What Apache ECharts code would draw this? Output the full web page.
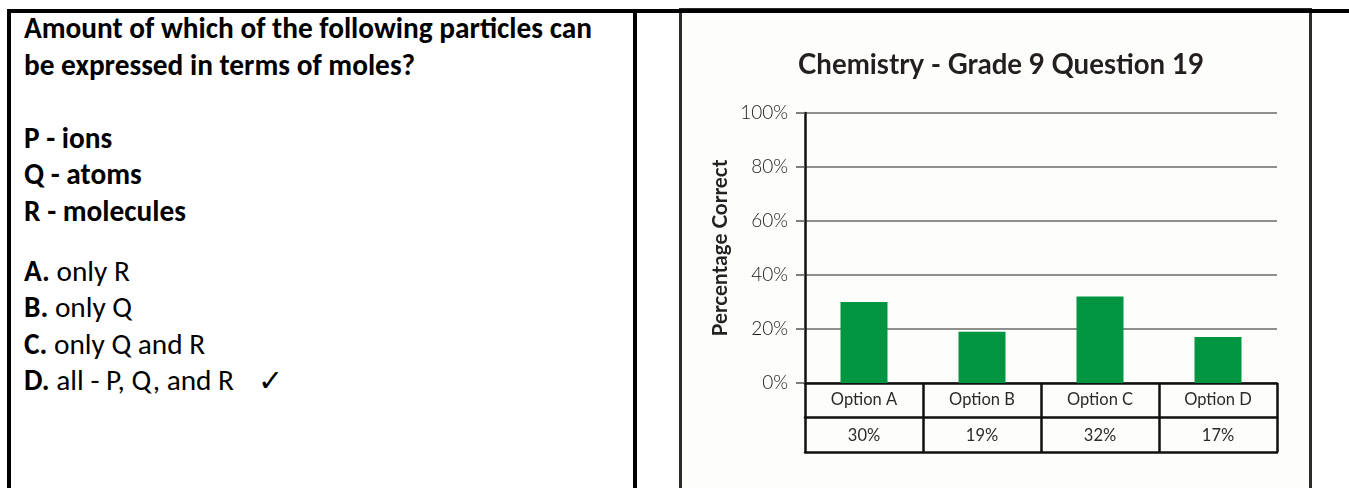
<!DOCTYPE html>
<html><head><meta charset="utf-8">
<script src="https://cdn.jsdelivr.net/npm/echarts@6/dist/echarts.min.js"></script>
<style>
html,body{margin:0;padding:0;width:1349px;height:488px;overflow:hidden;background:#fff;}
.blk{position:absolute;background:#000;}
#img{position:absolute;left:679px;top:8px;width:627px;height:490px;border:3px solid #2b2b2b;background:#fdfdfb;}
#txt{position:absolute;left:0;top:0;}
#txt text{font-family:Carlito,Lato,sans-serif;fill:#000;}
#chart{position:absolute;left:0;top:0;width:1349px;height:488px;}
</style></head><body>
<div id="img"></div>
<div class="blk" style="left:7px;top:9px;width:1342px;height:4px"></div>
<div class="blk" style="left:7px;top:9px;width:4px;height:479px"></div>
<div class="blk" style="left:633px;top:9px;width:4px;height:479px"></div>
<svg id="txt" width="1349" height="488"></svg>
<div id="chart"></div>
<script>
// ---- data ----
const questionLines = ["Amount of which of the following particles can", "be expressed in terms of moles?"];
const statements = ["P - ions", "Q - atoms", "R - molecules"];
const optionLetters = ["A.", "B.", "C.", "D."];
const optionTexts = ["only R", "only Q", "only Q and R", "all - P, Q, and R"];
const correctOption = 3;
const chartTitle = "Chemistry - Grade 9 Question 19";
const yAxisName = "Percentage Correct";
const categories = ["Option A", "Option B", "Option C", "Option D"];
const percentCorrect = [30, 19, 32, 17];
const yMin = 0, yMax = 100, yStep = 20;

// ---- left text panel ----
const NS = 'http://www.w3.org/2000/svg';
const svg = document.getElementById('txt');
function addText(x, y, parts, size) {
  const t = document.createElementNS(NS, 'text');
  t.setAttribute('x', x); t.setAttribute('y', y); t.setAttribute('font-size', size);
  parts.forEach(p => {
    const s = document.createElementNS(NS, 'tspan');
    s.textContent = p.t;
    if (p.b) s.setAttribute('font-weight', 'bold');
    t.appendChild(s);
  });
  svg.appendChild(t);
  return t;
}
const texts = [];
const X0 = 24;
const baseQ = [38, 74.5];
const baseS = [147.5, 184, 220.5];
const baseO = [281, 317, 353.5, 390];
questionLines.forEach((l, i) => texts.push(addText(X0, baseQ[i], [{t: l, b: true}], 22)));
statements.forEach((l, i) => texts.push(addText(X0, baseS[i], [{t: l, b: true}], 22)));
optionLetters.forEach((l, i) => texts.push(addText(X0, baseO[i], [{t: l, b: true}, {t: ' ' + optionTexts[i]}], 22)));
const w1 = texts[0].getComputedTextLength();
const fs = 22 * 568 / w1;
texts.forEach(t => t.setAttribute('font-size', fs.toFixed(2)));
const dText = texts[questionLines.length + statements.length + correctOption];
const dEnd = X0 + dText.getComputedTextLength();
const chk = addText(dEnd + 24, baseO[correctOption] + 1, [{t: '\u2713'}], 30);
chk.setAttribute('style', 'font-family:"DejaVu Sans",sans-serif');

// ---- chart ----
function fitSize(text, weight, family, target, base) {
  const c = document.createElement('canvas').getContext('2d');
  c.font = weight + ' ' + base + 'px ' + family;
  return base * target / c.measureText(text).width;
}
const titleSize = fitSize(chartTitle, 'bold', 'Lato', 406, 24);
const nameSize = fitSize(yAxisName, 'bold', 'Lato', 177, 17);

const chart = echarts.init(document.getElementById('chart'), null, {renderer: 'canvas'});
const tableLine = {color: '#111', width: 2.5};
chart.setOption({
  backgroundColor: 'transparent',
  animation: false,
  title: {
    text: chartTitle, left: 996, top: 46, textAlign: 'center',
    textStyle: {fontFamily: 'Lato', fontWeight: 'bold', fontSize: titleSize, color: '#231f20'}
  },
  grid: {left: 805, right: 72, top: 113, bottom: 105, containLabel: false},
  xAxis: [
    {
      type: 'category', data: categories, position: 'bottom',
      axisLine: {show: true, lineStyle: tableLine},
      axisTick: {show: true, interval: 0, length: 69, lineStyle: tableLine},
      axisLabel: {interval: 0, margin: 8, fontFamily: 'Lato', fontSize: 16.5, color: '#2a2a2a'}
    },
    {
      type: 'category', data: categories, position: 'bottom', offset: 34,
      axisLine: {show: true, lineStyle: tableLine},
      axisTick: {show: false},
      axisLabel: {interval: 0, margin: 10, fontFamily: 'Lato', fontSize: 16.5, color: '#2a2a2a',
        formatter: (v, i) => percentCorrect[i] + '%'}
    },
    {
      type: 'category', data: categories, position: 'bottom', offset: 69,
      axisLine: {show: true, lineStyle: tableLine},
      axisTick: {show: false}, axisLabel: {show: false}
    }
  ],
  yAxis: {
    type: 'value', min: yMin, max: yMax, interval: yStep,
    name: yAxisName, nameLocation: 'middle', nameRotate: 90, nameGap: 74,
    nameTextStyle: {fontFamily: 'Lato', fontWeight: 'bold', fontSize: nameSize, color: '#222'},
    axisLine: {show: true, lineStyle: {color: '#111', width: 2.5}},
    axisTick: {show: true, length: 9, lineStyle: {color: '#555', width: 1.5}},
    axisLabel: {margin: 17, fontFamily: 'Lato', fontWeight: 300, fontSize: 19, color: '#1a1a1a',
      formatter: '{value}%'},
    splitLine: {show: true, lineStyle: {color: '#6a6a6a', width: 1.5}}
  },
  series: [{
    type: 'bar', xAxisIndex: 0, data: percentCorrect, barWidth: 47,
    itemStyle: {color: '#009641'}
  }]
});
</script>
</body></html>
